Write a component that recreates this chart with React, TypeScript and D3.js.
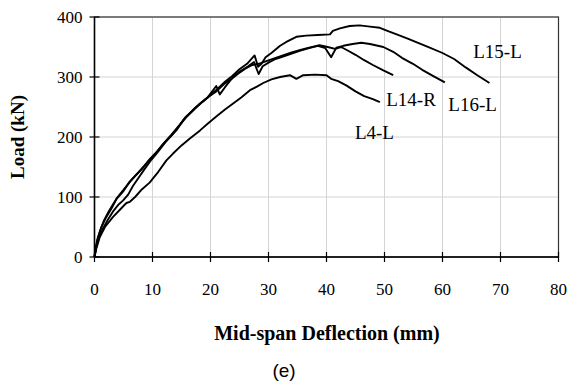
import React from "react";
import * as d3 from "d3";

const xTicks = [0, 10, 20, 30, 40, 50, 60, 70, 80];
const yTicks = [0, 100, 200, 300, 400];

const seriesNames = ["L15-L", "L16-L", "L14-R", "L4-L"];

const l15L: [number, number][] = [[0,0],[0.2,15],[0.5,30],[1,45],[1.6,60],[2.4,75],[3.2,88],[4,100],[5,112],[6,124],[7,135],[8.2,147],[9.5,162],[10.5,172],[11.8,188],[13,200],[14.2,212],[15.3,228],[16.5,240],[17.5,250],[18.8,260],[20,270],[21.2,280],[22.5,292],[23.8,302],[25,313],[26.3,322],[27.6,336],[28.2,317],[28.8,322],[29.5,333],[30.5,340],[32,352],[33,358],[34.8,367],[36.5,369],[38.5,370],[40.6,371],[41.1,377],[42.3,381],[44,385],[45.7,386],[47.5,384],[49.2,382],[50.5,377],[52.1,371],[54,364],[56,356],[57.8,349],[60,340],[62,330],[64,316],[66,303],[68.1,290]];

const l16L: [number, number][] = [[0,0],[0.3,18],[0.7,35],[1.2,50],[2,66],[3,82],[3.8,97],[5,110],[6.1,126],[7.3,138],[8.4,150],[9.6,164],[10.8,176],[12,190],[13.2,203],[14.5,218],[15.6,232],[16.8,243],[18,254],[19.5,266],[21,285],[21.6,271],[22.5,283],[23.9,300],[25.2,310],[26.5,318],[27.5,325],[28.3,305],[29,318],[30,324],[31.2,330],[32.5,334],[34,339],[35.5,344],[37,348],[38.5,352],[39.8,348],[40.8,333],[41.7,349],[42.9,352],[44.5,355],[46,357],[47.5,355],[49.8,350],[51.5,342],[53,332],[54.9,322],[56.5,312],[58.5,301],[60.4,291]];

const l14R: [number, number][] = [[0,0],[0.3,16],[0.8,33],[1.5,48],[2.3,62],[3.2,76],[4.2,88],[4.9,94],[5.8,104],[6.6,118],[7.6,132],[8.6,146],[9.8,162],[11,176],[12.2,191],[13.5,205],[14.8,221],[16,235],[17.2,246],[18.5,258],[19.8,268],[21,276],[22.3,288],[23.5,296],[24.8,306],[26,314],[27.2,320],[28.3,322],[29.5,326],[31,331],[32.5,336],[34,341],[35.5,345],[37,349],[38.8,353],[40.2,350],[41.5,347],[42.5,350],[43.5,345],[45,337],[46.5,328],[48,320],[49.8,311],[51.5,303]];

const l4L: [number, number][] = [[0,0],[0.3,14],[0.9,33],[1.8,50],[3.2,67],[4.5,80],[5.5,90],[6.1,92],[7,100],[8.2,113],[9.5,124],[11,142],[12.4,161],[13.5,172],[15,186],[16.5,198],[18.2,211],[19.5,222],[21,234],[22.5,246],[23.9,256],[25.3,266],[26.8,278],[28,284],[29.1,290],[30.5,296],[32,300],[33.7,303],[34.8,297],[36,303],[38,304],[40,303],[40.8,297],[42,293],[43.4,286],[45,276],[46.5,268],[48,263],[49.2,258]];

const seriesData = [l15L, l16L, l14R, l4L];

// label anchor positions in data units (deflection, load)
const labelX = [65.3, 61.0, 50.3, 44.9];
const labelY = [342, 255, 263, 207];

export default function App() {
  const W = 569, H = 385;
  const left = 94.5, right = 558.5, top = 17, bottom = 257;
  const x = d3.scaleLinear().domain([0, 80]).range([left, right]);
  const y = d3.scaleLinear().domain([0, 400]).range([bottom, top]);
  const line = d3.line<[number, number]>().x(d => x(d[0])).y(d => y(d[1]));
  const serif = "'Liberation Serif', 'Times New Roman', serif";

  return (
    <svg width={W} height={H} style={{ position: "absolute", left: 0, top: 0, background: "#fff" }}>
      <rect x={0} y={0} width={W} height={H} fill="#fff" />
      {xTicks.slice(1).map(t => (
        <line key={"gx" + t} x1={x(t)} x2={x(t)} y1={top} y2={bottom} stroke="#d4d4d4" strokeWidth={1} />
      ))}
      {yTicks.slice(1).map(t => (
        <line key={"gy" + t} x1={left} x2={right} y1={y(t)} y2={y(t)} stroke="#d4d4d4" strokeWidth={1} />
      ))}
      <rect x={left} y={top} width={right - left} height={bottom - top} fill="none" stroke="#333" strokeWidth={1.2} />
      <line x1={left} x2={left} y1={top} y2={bottom} stroke="#000" strokeWidth={1.5} />
      <line x1={left} x2={right} y1={bottom} y2={bottom} stroke="#000" strokeWidth={1.5} />
      {xTicks.map(t => (
        <g key={"tx" + t}>
          <line x1={x(t)} x2={x(t)} y1={bottom - 5} y2={bottom + 5} stroke="#000" strokeWidth={1.2} />
          <text x={x(t)} y={bottom + 38} textAnchor="middle" fontFamily={serif} fontSize={17}>{t}</text>
        </g>
      ))}
      {yTicks.map(t => (
        <g key={"ty" + t}>
          <line x1={left - 5} x2={left + 5} y1={y(t)} y2={y(t)} stroke="#000" strokeWidth={1.2} />
          <text x={left - 12} y={y(t)} dy="0.35em" textAnchor="end" fontFamily={serif} fontSize={17}>{t}</text>
        </g>
      ))}
      {seriesData.map((s, i) => (
        <path key={seriesNames[i]} d={line(s) || ""} fill="none" stroke="#000" strokeWidth={1.9} strokeLinejoin="round" />
      ))}
      {seriesNames.map((n, i) => (
        <text key={"lab" + n} x={x(labelX[i])} y={y(labelY[i])} dy="0.35em" fontFamily={serif} fontSize={19}>{n}</text>
      ))}
      <text x={(left + right) / 2 + 0.5} y={340} textAnchor="middle" fontFamily={serif} fontWeight="bold" fontSize={20}>Mid-span Deflection (mm)</text>
      <text transform={`translate(24, ${(top + bottom) / 2}) rotate(-90)`} textAnchor="middle" fontFamily={serif} fontWeight="bold" fontSize={19}>Load (kN)</text>
      <text x={284} y={370} dy="0.35em" textAnchor="middle" fontFamily="'Liberation Sans', Arial, sans-serif" fontSize={19}>(e)</text>
    </svg>
  );
}
